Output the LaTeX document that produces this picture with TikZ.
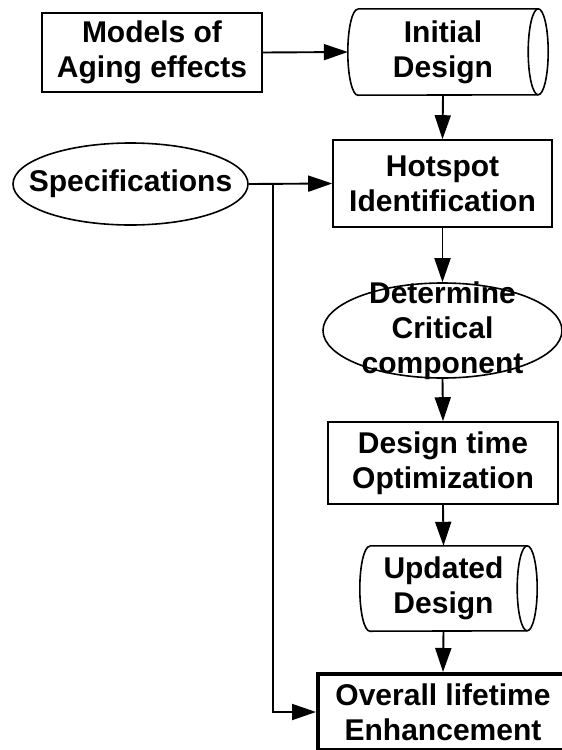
\documentclass[tikz,border=0pt]{standalone}
\usepackage{fontspec}
\setmainfont{Liberation Sans}
\usetikzlibrary{arrows.meta,shapes.geometric}
% #1 node name, #2 half height
\newcommand\cylout[2]{%
  \draw[shp] ([xshift=10pt]#1.north west) -- (#1.north east)
     arc[start angle=90,end angle=-90,x radius=10pt,y radius=#2]
     -- ([xshift=10pt]#1.south west)
     arc[start angle=270,end angle=90,x radius=10pt,y radius=#2];
  \draw[shp] (#1.north east) arc[start angle=90,end angle=270,x radius=10pt,y radius=#2];
}
\begin{document}
\begin{tikzpicture}[x=1pt,y=1pt,
  shp/.style={line width=1.6pt},
  lbl/.style={inner sep=0pt, align=center, font=\fontsize{30}{35}\selectfont\bfseries},
  box/.style={lbl, draw, shp, rectangle},
  cylnode/.style={lbl, rectangle},
  ell/.style={draw, shp, ellipse, inner sep=0pt},
  arr/.style={line width=1.9pt, -{Triangle[length=24pt,width=16pt]}},
  ]
\useasboundingbox (0,0) rectangle (562,-750);
\clip (0,0) rectangle (562,-750);

% nodes
\node[box, minimum width=220pt, minimum height=79pt] (models) at (152,-52.5) {Models of\\Aging effects};
\node[cylnode, minimum width=190pt, minimum height=86pt] (init) at (443,-52) {Initial\\Design};
\cylout{init}{43pt}
\node[ell, minimum width=235pt, minimum height=82pt] (spec) at (130.5,-184) {};
\node[lbl] (spectext) at (spec.center) {Specifications};
\node[box, minimum width=219pt, minimum height=87pt] (hot) at (442.5,-183.5) {Hotspot\\Identification};
\node[ell, minimum width=239pt, minimum height=95pt] (det) at (442.5,-330.5) {};
\node[lbl] (dettext) at (det.center) {Determine\\Critical\\component};
\node[box, minimum width=230pt, minimum height=82pt] (opt) at (443,-463) {Design time\\Optimization};
\node[cylnode, minimum width=167pt, minimum height=85pt] (upd) at (443.5,-588.5) {Updated\\Design};
\cylout{upd}{42.5pt}
\node[box, line width=4pt, minimum width=250pt, minimum height=76pt] (over) at (443,-712) {Overall lifetime\\Enhancement};
\coordinate (jn) at (273,-184);
\coordinate (jb) at (273,-712);

% connectors
\draw[arr] (models.east) -- (init.west);
\draw[arr] (init.south) -- (hot.north);
\draw[arr] (spec.east) -- (hot.west);
\draw[arr] (jn) -- (jb) -- (over.west);
\draw[arr] (hot.south) -- (det.north);
\draw[arr] (det.south) -- (opt.north);
\draw[arr] (opt.south) -- (upd.north);
\draw[arr] (upd.south) -- (over.north);
\end{tikzpicture}
\end{document}
